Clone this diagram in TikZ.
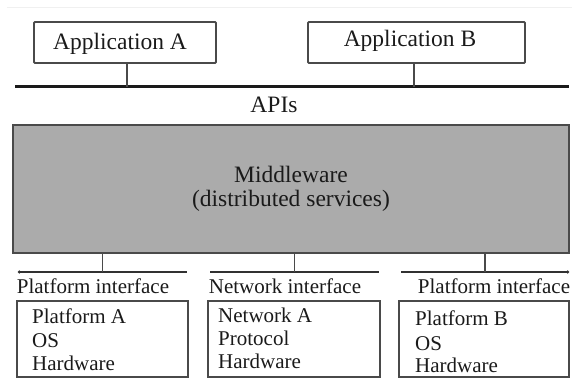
\documentclass[tikz,border=0pt]{standalone}
\usepackage{fontspec}
\setmainfont{Liberation Serif}
\usetikzlibrary{arrows.meta}
\definecolor{edge}{HTML}{4A4A4A}
\definecolor{mwfill}{HTML}{ABABAB}
\definecolor{ink}{HTML}{1A1A1A}
\begin{document}
\begin{tikzpicture}[x=1pt,y=-1pt,
  appbox/.style={draw=edge, line width=1.8pt, rounded corners=1pt, minimum height=41pt, inner sep=0pt},
  lowbox/.style={draw=edge, line width=1.8pt, minimum height=76pt, inner sep=0pt},
  mwbox/.style={draw=edge, fill=mwfill, line width=2.2pt, minimum width=556pt, minimum height=128pt, inner sep=0pt, align=center, text=ink, font=\fontsize{23.5}{24}\selectfont},
  toptext/.style={text=ink, inner sep=0pt, font=\fontsize{23.5}{28}\selectfont},
  bottext/.style={text=ink, inner sep=0pt, font=\fontsize{21}{24}\selectfont},
  conn/.style={draw=edge, line width=1.8pt},
  bus/.style={draw=ink, line width=3pt},
  iface/.style={draw=ink!90, line width=1.5pt}
]
\useasboundingbox (0,0) rectangle (572,379);
% faint top rule
\coordinate (topL) at (7,7);
\coordinate (topR) at (572,7);
\draw[gray!12, line width=0.8pt] (topL) -- (topR);

% applications
\node[appbox, minimum width=182pt] (appA) at (125,42.5) {};
\node[toptext, anchor=base] (appAt) at (120,50) {Application A};
\node[appbox, minimum width=217pt] (appB) at (416.5,42.5) {};
\node[toptext, anchor=base] (appBt) at (410,47) {Application B};

% API bus
\coordinate (busL) at (15,87);
\coordinate (busR) at (569,87);
\draw[bus] (busL) -- (busR);
\draw[conn] ([xshift=2pt]appA.south) -- ([xshift=2pt]appA.south |- busL);
\draw[conn] ([xshift=-2.5pt]appB.south) -- ([xshift=-2.5pt]appB.south |- busL);
\node[toptext, anchor=base] (apis) at (274,113) {APIs};

% middleware
\node[mwbox] (mw) at (291,189) {Middleware\\(distributed services)};

% interface lines
\coordinate (i1L) at (18,272);  \coordinate (i1R) at (187,272); \coordinate (i1c) at (102.5,272);
\coordinate (i2L) at (210,272); \coordinate (i2R) at (379,272); \coordinate (i2c) at (294.5,272);
\coordinate (i3L) at (401,272); \coordinate (i3R) at (569,272); \coordinate (i3c) at (485,272);
\draw[iface, {Circle[length=2.8pt]}-] (i1L) -- (i1R);
\draw[iface] (i2L) -- (i2R);
\draw[iface, -{Circle[length=2.8pt]}] (i3L) -- (i3R);
\draw[conn] (mw.south -| i1c) -- (i1c);
\draw[conn] (mw.south -| i2c) -- (i2c);
\draw[conn] (mw.south -| i3c) -- (i3c);

\node[bottext, anchor=base] (lab1) at (93,293) {Platform interface};
\node[bottext, anchor=base] (lab2) at (285,293) {Network interface};
\node[bottext, anchor=base] (lab3) at (494,293) {Platform interface};

% lower boxes
\node[lowbox, minimum width=171pt] (pA) at (102.5,339) {};
\node[lowbox, minimum width=172pt] (nA) at (294,339) {};
\node[lowbox, minimum width=170pt] (pB) at (484,339) {};

\node[bottext, anchor=base west] (pA1) at (32,323) {Platform A};
\node[bottext, anchor=base west] (pA2) at (32,347) {OS};
\node[bottext, anchor=base west] (pA3) at (32,370) {Hardware};

\node[bottext, anchor=base west] (nA1) at (218,322) {Network A};
\node[bottext, anchor=base west] (nA2) at (218,345) {Protocol};
\node[bottext, anchor=base west] (nA3) at (218,368) {Hardware};

\node[bottext, anchor=base west] (pB1) at (415,325) {Platform B};
\node[bottext, anchor=base west] (pB2) at (415,350) {OS};
\node[bottext, anchor=base west] (pB3) at (415,372) {Hardware};
\end{tikzpicture}
\end{document}
